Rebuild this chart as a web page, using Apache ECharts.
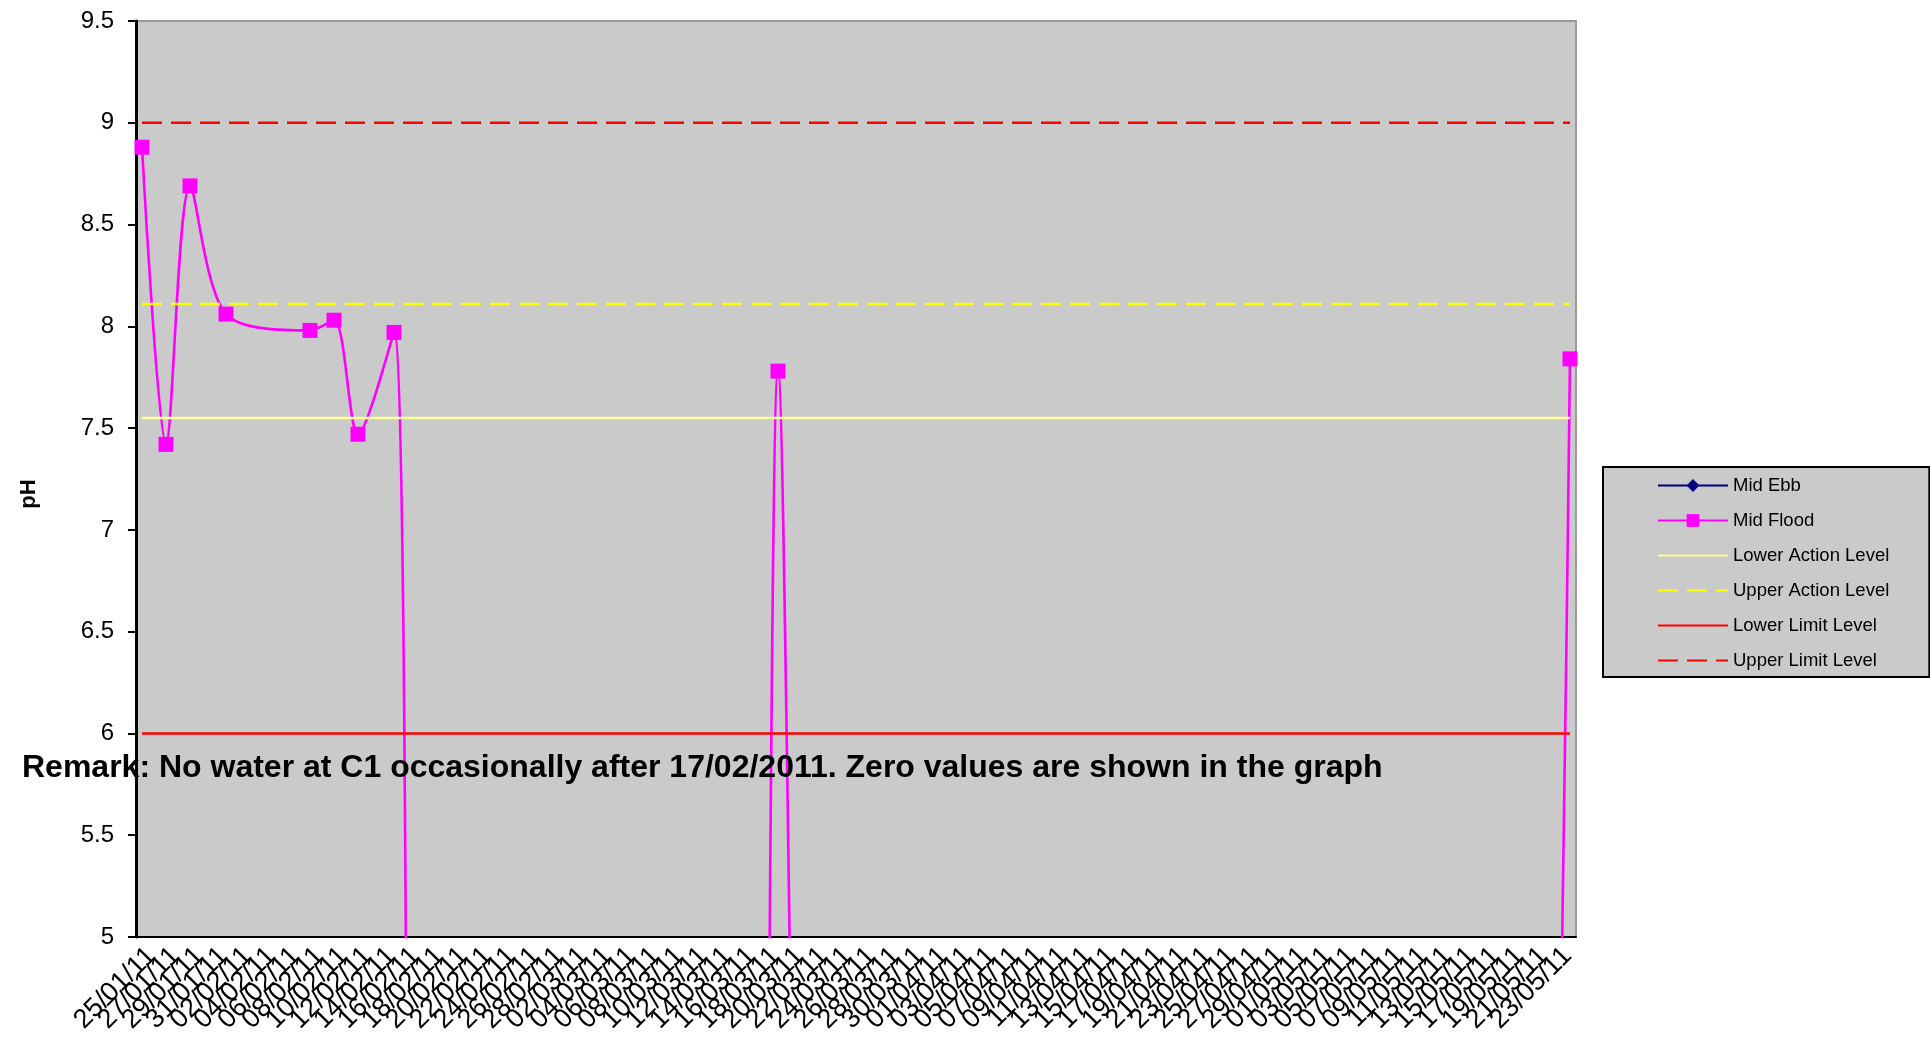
<!DOCTYPE html>
<html><head><meta charset="utf-8">
<script src="https://cdn.jsdelivr.net/npm/echarts@6/dist/echarts.min.js"></script>
<style>html,body{margin:0;padding:0;background:#fff}#c{width:1930px;height:1045px}</style>
</head><body><div id="c"></div>
<script>
// x axis: one category per day, 25/01/11 .. 24/05/11
const axisStart = [2011, 0, 25];
const axisDayCount = 120;
function pad(n){ return (n < 10 ? '0' : '') + n; }
const dayLabels = [];
for (let i = 0; i < axisDayCount; i++) {
  const d = new Date(Date.UTC(axisStart[0], axisStart[1], axisStart[2] + i));
  dayLabels.push(pad(d.getUTCDate()) + '/' + pad(d.getUTCMonth() + 1) + '/' + String(d.getUTCFullYear()).slice(2));
}
const labelEvery = 2; // a tick label every 2 days

// Mid Flood measurements (0 = no water at C1)
const floodDates = ['25/01/11','27/01/11','29/01/11','01/02/11','08/02/11','10/02/11','12/02/11','15/02/11',
  '17/02/11','19/02/11','22/02/11','24/02/11','26/02/11',
  '01/03/11','03/03/11','05/03/11','08/03/11','10/03/11','12/03/11','15/03/11','17/03/11','19/03/11','22/03/11','24/03/11','26/03/11','29/03/11','31/03/11',
  '02/04/11','05/04/11','07/04/11','09/04/11','12/04/11','14/04/11','16/04/11','19/04/11','21/04/11','23/04/11','26/04/11','28/04/11','30/04/11',
  '03/05/11','05/05/11','07/05/11','10/05/11','12/05/11','14/05/11','17/05/11','19/05/11','21/05/11','24/05/11'];
const floodValues = [8.88, 7.42, 8.69, 8.06, 7.98, 8.03, 7.47, 7.97,
  0, 0, 0, 0, 0,
  0, 0, 0, 0, 0, 0, 0, 0, 7.78, 0, 0, 0, 0, 0,
  0, 0, 0, 0, 0, 0, 0, 0, 0, 0, 0, 0, 0,
  0, 0, 0, 0, 0, 0, 0, 0, 0, 7.84];

// Mid Ebb: no values plotted
const ebbDates = [];
const ebbValues = [];

const levelNames = ['Lower Action Level', 'Upper Action Level', 'Lower Limit Level', 'Upper Limit Level'];
const levelValues = [7.55, 8.11, 6, 9];

const yMin = 5, yMax = 9.5, yStep = 0.5;

const remarkText = 'Remark: No water at C1 occasionally after 17/02/2011. Zero values are shown in the graph';

const FONT = '"Liberation Sans", Arial, sans-serif';

function pairs(dates, vals){ return dates.map((d, i) => [d, vals[i]]); }
function levelData(v){ return [[dayLabels[0], v], [dayLabels[dayLabels.length - 1], v]]; }

const levelStyles = [
  {color: '#FFFF99', type: 'solid'},
  {color: '#FFFF00', type: [20, 9]},
  {color: '#FF0000', type: 'solid'},
  {color: '#FF0000', type: [20, 9]}
];

const series = [
  {name: 'Mid Ebb', type: 'line', data: pairs(ebbDates, ebbValues), symbol: 'diamond', symbolSize: 12,
   itemStyle: {color: '#000080'}, lineStyle: {color: '#000080', width: 2}},
  {name: 'Mid Flood', type: 'line', data: pairs(floodDates, floodValues), smooth: 0.3, symbol: 'rect', symbolSize: 15,
   showAllSymbol: true,
   itemStyle: {color: '#FF00FF'}, lineStyle: {color: '#FF00FF', width: 2.6}}
];
levelNames.forEach((n, i) => {
  series.push({name: n, type: 'line', data: levelData(levelValues[i]), symbol: 'none',
    lineStyle: {color: levelStyles[i].color, type: levelStyles[i].type, width: 2.6},
    itemStyle: {color: levelStyles[i].color}});
});

const legendData = [{name: 'Mid Ebb'}, {name: 'Mid Flood'}].concat(
  levelNames.map(n => ({name: n, itemStyle: {opacity: 0}})));

const chart = echarts.init(document.getElementById('c'));
chart.setOption({
  animation: false,
  backgroundColor: '#ffffff',
  grid: {left: 136, right: 354, top: 21, bottom: 108, show: true, backgroundColor: '#CACACA', borderColor: '#9A9A9A', borderWidth: 2},
  xAxis: {
    type: 'category', data: dayLabels, boundaryGap: true,
    axisLine: {lineStyle: {color: '#000', width: 2}},
    axisTick: {interval: labelEvery - 1, length: 6, lineStyle: {color: '#000', width: 2}},
    axisLabel: {interval: 0, rotate: 45, fontSize: 27, fontFamily: FONT, color: '#000', margin: 5,
      verticalAlign: 'top',
      formatter: function (v) { return dayLabels.indexOf(v) % labelEvery === 0 ? v : ''; }},
    splitLine: {show: false}
  },
  yAxis: {
    type: 'value', min: yMin, max: yMax, interval: yStep,
    axisLine: {show: true, lineStyle: {color: '#000', width: 3}},
    axisTick: {show: true, length: 8, lineStyle: {color: '#000', width: 2}},
    axisLabel: {fontSize: 24, fontFamily: FONT, color: '#000', margin: 22},
    splitLine: {show: false},
    name: 'pH', nameLocation: 'middle', nameRotate: 90, nameGap: 96,
    nameTextStyle: {fontWeight: 'bold', fontSize: 22, fontFamily: FONT, color: '#000', padding: [0, 30, 0, 0]}
  },
  legend: {
    orient: 'vertical', left: 1603, top: 467,
    itemWidth: 70, itemHeight: 16, itemGap: 16,
    padding: [9, 40, 7, 54],
    backgroundColor: '#CACACA', borderColor: '#000', borderWidth: 2,
    textStyle: {fontSize: 18.5, fontFamily: FONT, color: '#000'},
    data: legendData
  },
  graphic: [{
    type: 'text', x: 22, y: 768, z: 100,
    style: {text: remarkText, font: 'bold 32px ' + FONT, fill: '#000', align: 'left', verticalAlign: 'middle'}
  }],
  series: series
});
</script></body></html>
